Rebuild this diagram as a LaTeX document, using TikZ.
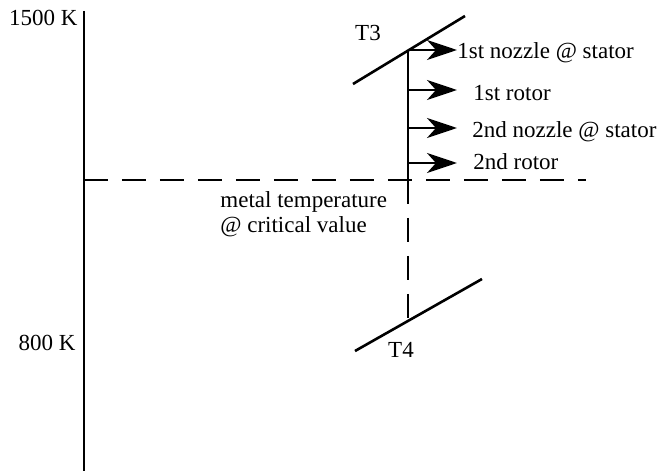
\documentclass[tikz,border=0pt]{standalone}
\usepackage{fontspec}
\setmainfont{Liberation Serif}
\usepackage{tikz}
\usetikzlibrary{arrows.meta, positioning}

\begin{document}
\begin{tikzpicture}[
    x=0.5pt, y=-0.5pt,
    every node/.style={font=\fontsize{11.5}{12.5}\selectfont, inner sep=0pt},
    axis/.style={line width=1.3pt},
    guide/.style={line width=1.3pt, dash pattern=on 12pt off 7pt},
    flow/.style={-{Stealth[length=15pt, width=10pt, inset=4.5pt]}, line width=1.3pt},
    lbl/.style={anchor=west}
]
\useasboundingbox (0,0) rectangle (661,471);

% temperature axis
\coordinate (top) at (84,11);
\coordinate (bot) at (84,471);
\draw[axis] (top) -- (bot);
\node[anchor=east] (hi) at (78,18) {1500 K};
\node[anchor=east] (lo) at (76,343) {800 K};

% inlet and outlet lines
\coordinate (t3a) at (353,84);
\coordinate (t3b) at (465,16);
\coordinate (t4a) at (355,351);
\coordinate (t4b) at (482,279);
\draw[axis] (t3a) -- (t3b);
\draw[axis] (t4a) -- (t4b);
\node (T3) at (368,33) {T3};
\node (T4) at (401,350) {T4};

% critical metal temperature
\coordinate (cl) at (84,180);
\coordinate (cr) at (586,180);
\draw[guide] (cl) -- (cr);
\node[anchor=west, align=left] (metal) at (220,214) {metal temperature\\@ critical value};

\coordinate (p3) at (408,50);
\coordinate (pc) at (408,180);
\coordinate (p4) at (408,320);
\draw[axis] (p3) -- (pc);
\draw[guide] (pc) -- (p4);

% stages
\coordinate (s1) at (408,50);
\coordinate (e1) at (457,50);
\coordinate (s2) at (408,90);
\coordinate (e2) at (457,90);
\coordinate (s3) at (408,128);
\coordinate (e3) at (457,128);
\coordinate (s4) at (408,163);
\coordinate (e4) at (457,163);
\draw[flow] (s1) -- (e1);
\draw[flow] (s2) -- (e2);
\draw[flow] (s3) -- (e3);
\draw[flow] (s4) -- (e4);
\node[lbl] (noz1) at (457,53) {1st nozzle @ stator};
\node[lbl] (rot1) at (473,93) {1st rotor};
\node[lbl] (noz2) at (472,132) {2nd nozzle @ stator};
\node[lbl] (rot2) at (473,162) {2nd rotor};

\end{tikzpicture}
\end{document}
